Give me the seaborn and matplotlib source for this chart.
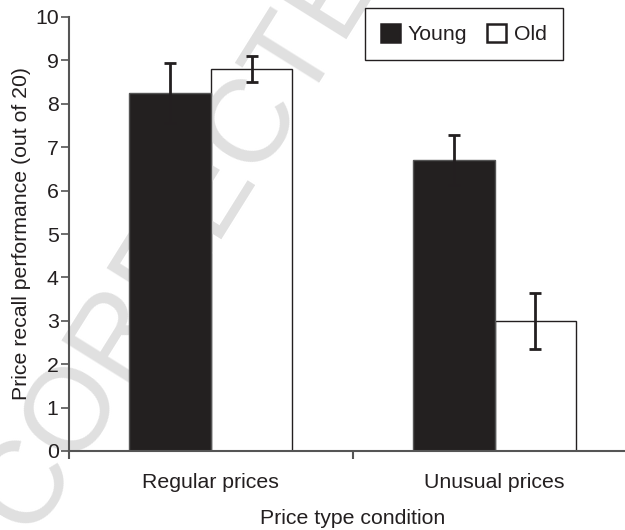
import matplotlib
matplotlib.use("Agg")
import matplotlib.pyplot as plt
import seaborn as sns
import pandas as pd

conditions = ["Regular prices", "Unusual prices"]
groups = ["Young", "Old"]
young_means = [8.25, 6.70]
old_means = [8.80, 3.00]
young_err = [0.69, 0.58]
old_err = [0.30, 0.64]

sns.set_style("ticks")
plt.rcParams["font.family"] = ["Liberation Sans", "DejaVu Sans"]

INK = "#231f20"
FS = 15.3
rows = []
for g, means in zip(groups, [young_means, old_means]):
    for c, m in zip(conditions, means):
        rows.append({"condition": c, "group": g, "recall": m})
df = pd.DataFrame(rows)
errs = {"Young": young_err, "Old": old_err}

fig = plt.figure(figsize=(6.25, 5.3), dpi=100)
ax = fig.add_axes([69 / 625, 1 - 451 / 530, (636.5 - 69) / 625, (451 - 17) / 530])

sns.barplot(data=df, x="condition", y="recall", hue="group", order=conditions,
            hue_order=groups, palette={"Young": INK, "Old": "white"},
            width=0.575, errorbar=None, edgecolor=INK, linewidth=1.0,
            ax=ax)

bar_containers = list(ax.containers)
for i, cont in enumerate(bar_containers):
    g = groups[i]
    for j, bar in enumerate(cont):
        bar.set_zorder(3 if g == "Young" else 1)
        if g == "Young":
            bar.set_edgecolor("#555555")
        xc = bar.get_x() + bar.get_width() / 2
        ax.errorbar(xc, bar.get_height(), yerr=errs[g][j], fmt="none",
                    ecolor=INK, elinewidth=2, capsize=4.4, capthick=2, zorder=5)

# watermark
ax.text(4 / 625, 1 - 520 / 530, "CORRECTED", transform=fig.transFigure,
        fontsize=85, color="#e0e0e0", rotation=58, rotation_mode="anchor",
        ha="left", va="center", zorder=2, clip_on=False)

ax.set_axisbelow(False)
ax.set_ylim(0, 10)
ax.set_xlim(-0.5, 1.5)
ax.set_yticks(range(0, 11))
ax.set_xticks([0, 1])
ax.set_xticklabels(conditions)
ax.set_xticks([-0.5, 0.5, 1.5], minor=True)
ax.tick_params(axis="x", which="major", length=0, pad=16, labelsize=FS, labelcolor=INK)
ax.tick_params(axis="x", which="minor", length=6, width=1.5, color="#555555", direction="out")
ax.tick_params(axis="y", length=6, width=1.2, color="#555555", pad=1.5, labelsize=FS, labelcolor=INK)

ax.set_xlabel("Price type condition", fontsize=FS, color=INK, labelpad=12)
ax.set_ylabel("Price recall performance (out of 20)", fontsize=FS, color=INK, labelpad=3)

sns.despine(ax=ax)
for s in ["left", "bottom"]:
    ax.spines[s].set_color("#555555")
    ax.spines[s].set_linewidth(1.5)
    ax.spines[s].set_zorder(6)

handles, labels = ax.get_legend_handles_labels()
for h in handles:
    h.set_edgecolor(INK)
    h.set_linewidth(1.8)
leg = ax.legend(handles, labels, ncol=2, loc="upper left",
                bbox_to_anchor=(365 / 625, 1 - 8 / 530), bbox_transform=fig.transFigure,
                borderaxespad=0, fontsize=FS, handlelength=0.9, handleheight=0.9,
                handletextpad=0.35, columnspacing=0.95, borderpad=0.75,
                frameon=True, fancybox=False, edgecolor=INK, framealpha=1)
leg.get_frame().set_linewidth(1.0)
leg.set_zorder(7)
for t in leg.get_texts():
    t.set_color(INK)

fig.savefig("out.png", dpi=100)
